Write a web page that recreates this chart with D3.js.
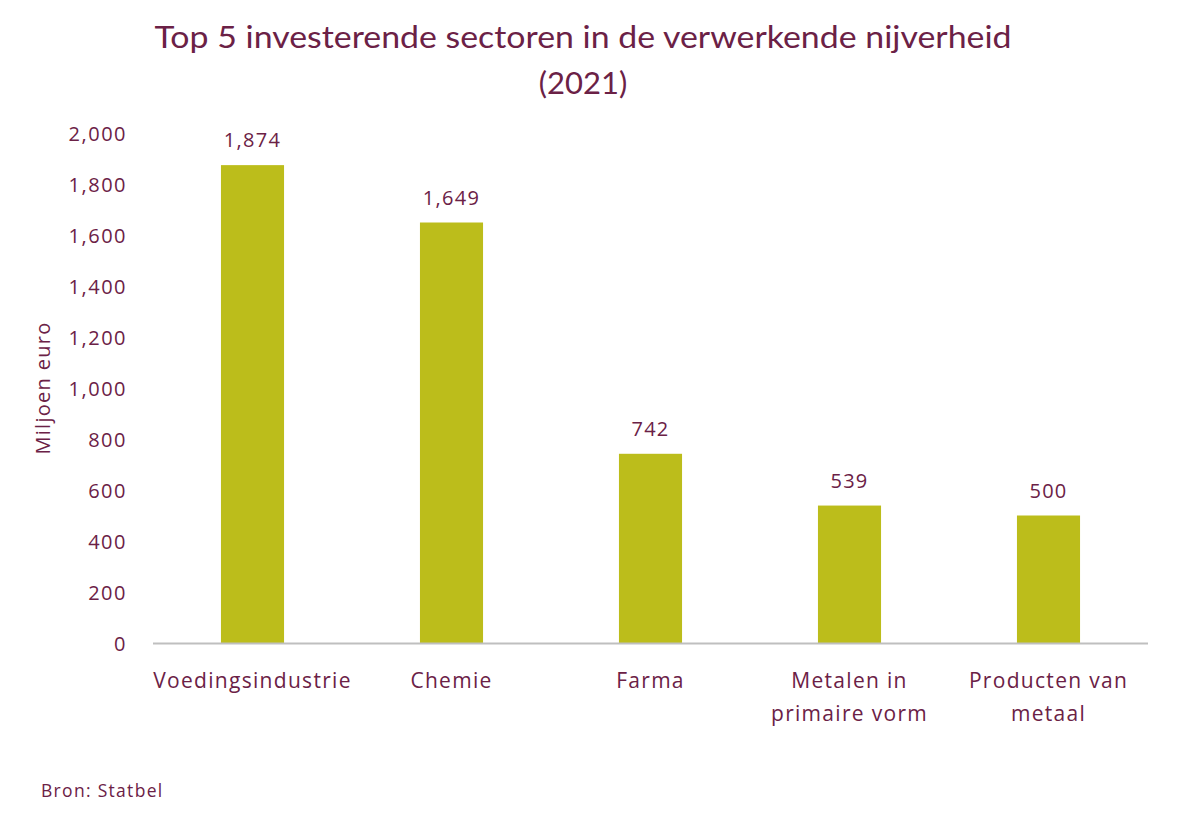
<!DOCTYPE html>
<html>
<head>
<meta charset="utf-8">
<script src="https://cdn.jsdelivr.net/npm/d3@7"></script>
<style>
  body { margin: 0; background: #fff; }
  svg text { font-family: "Open Sans", Lato, sans-serif; fill: #6b2146; }
</style>
</head>
<body>
<script>
/* Chart data */
var categories = ["Voedingsindustrie", "Chemie", "Farma", "Metalen in primaire vorm", "Producten van metaal"];
var categoryLines = [["Voedingsindustrie"], ["Chemie"], ["Farma"], ["Metalen in", "primaire vorm"], ["Producten van", "metaal"]];
var values = [1874, 1649, 742, 539, 500];
var yTicks = [0, 200, 400, 600, 800, 1000, 1200, 1400, 1600, 1800, 2000];

var width = 1190;
var height = 821;
var margin = {top: 133, right: 42, bottom: 178, left: 153};
var textColour = "#6b2146";
var barColour = "#bcbd1b";

var svg = d3.select("body").append("svg")
            .attr("width", width)
            .attr("height", height);

var x = d3.scaleBand()
          .domain(categories)
          .range([margin.left, width - margin.right])
          .paddingInner(0.683)
          .paddingOuter(0.3415);

var y = d3.scaleLinear()
          .domain([0, 2000])
          .range([height - margin.bottom, margin.top]);

/* Title */
svg.append("text")
   .attr("x", 583)
   .attr("y", 48)
   .attr("text-anchor", "middle")
   .attr("textLength", 857)
   .attr("lengthAdjust", "spacingAndGlyphs")
   .style("font-family", "Lato, sans-serif")
   .style("font-size", "31px")
   .text("Top 5 investerende sectoren in de verwerkende nijverheid");

svg.append("text")
   .attr("x", 583)
   .attr("y", 94)
   .attr("text-anchor", "middle")
   .style("font-family", "Lato, sans-serif")
   .style("font-size", "31px")
   .text("(2021)");

/* Y axis (labels only) */
var yAxis = svg.append("g")
               .attr("transform", "translate(" + (margin.left - 23) + ",0)")
               .call(d3.axisLeft(y).tickValues(yTicks).tickSize(0).tickFormat(d3.format(",")));
yAxis.select(".domain").remove();
yAxis.selectAll("text")
     .style("font-family", "\"Open Sans\", sans-serif")
     .style("font-size", "20px")
     .style("letter-spacing", "1.5px")
     .attr("dy", "0.35em")
     .attr("fill", textColour);

svg.append("text")
   .attr("transform", "translate(50," + y(1000) + ") rotate(-90)")
   .attr("text-anchor", "middle")
   .style("font-size", "20px")
   .style("letter-spacing", "1.3px")
   .text("Miljoen euro");

/* Bars */
svg.selectAll(".bar")
   .data(values)
   .enter()
   .append("rect")
   .attr("class", "bar")
   .attr("x", function(d, i) { return x(categories[i]); })
   .attr("y", function(d) { return y(d); })
   .attr("width", x.bandwidth())
   .attr("height", function(d) { return y(0) - y(d); })
   .attr("fill", barColour);

/* Value labels */
svg.selectAll(".value")
   .data(values)
   .enter()
   .append("text")
   .attr("class", "value")
   .attr("x", function(d, i) { return x(categories[i]) + x.bandwidth() / 2; })
   .attr("y", function(d) { return y(d) - 18; })
   .attr("text-anchor", "middle")
   .style("font-size", "20px")
   .style("letter-spacing", "1.3px")
   .text(function(d) { return d3.format(",")(d); });

/* X axis line */
svg.append("line")
   .attr("x1", margin.left)
   .attr("x2", width - margin.right)
   .attr("y1", y(0) + 0.5)
   .attr("y2", y(0) + 0.5)
   .attr("stroke", "#bfbfbf")
   .attr("stroke-width", 2);

/* Category labels */
var catLabels = svg.selectAll(".cat")
   .data(categoryLines)
   .enter()
   .append("text")
   .attr("class", "cat")
   .attr("text-anchor", "middle")
   .style("font-size", "21px")
   .style("letter-spacing", "1.3px");

catLabels.each(function(lines, i) {
  var t = d3.select(this);
  lines.forEach(function(line, j) {
    t.append("tspan")
     .attr("x", x(categories[i]) + x.bandwidth() / 2)
     .attr("y", y(0) + 45 + j * 33)
     .text(line);
  });
});

/* Source */
svg.append("text")
   .attr("x", 41)
   .attr("y", 797)
   .style("font-size", "17.5px")
   .style("letter-spacing", "1.3px")
   .text("Bron: Statbel");
</script>
</body>
</html>
